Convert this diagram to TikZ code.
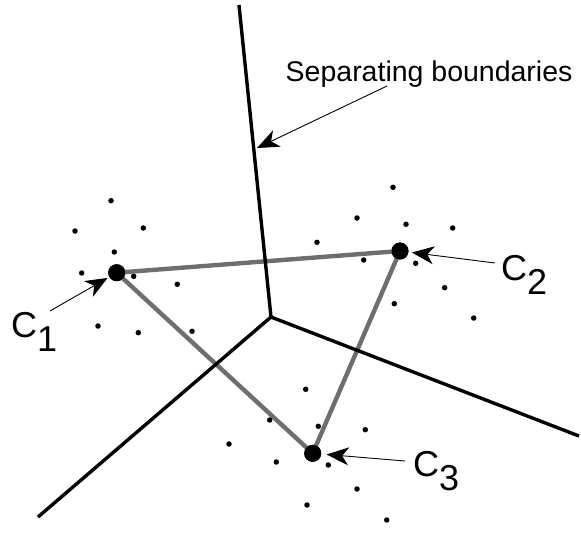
\documentclass[tikz,border=0pt]{standalone}
\usepackage{fontspec}
\setmainfont{Liberation Sans}
\usetikzlibrary{arrows.meta}
\definecolor{linkgray}{RGB}{110,110,110}
\begin{document}
\begin{tikzpicture}[x=1pt,y=-1pt,
  boundary/.style={line width=3.4pt,black},
  link/.style={line width=4.4pt,linkgray},
  centroid/.style={circle,fill=black,minimum size=17pt,inner sep=0pt,outer sep=0pt},
  sample/.style={circle,fill=black,minimum size=5.5pt,inner sep=0pt},
  pointer/.style={line width=0.9pt,-{Stealth[length=22pt,width=18pt,inset=6.5pt]}},
  clabel/.style={font=\fontsize{36}{40}\selectfont,inner sep=0pt,anchor=base west},
  blabel/.style={font=\fontsize{28.5}{32}\selectfont,inner sep=0pt,anchor=base west},
  ]
\useasboundingbox (0,0) rectangle (581,547);

% boundaries
\coordinate (j) at (271,317);
\coordinate (btop) at (239,5);
\coordinate (bleft) at (38,517);
\coordinate (bright) at (579,436);

% centroids
\node[centroid] (c1) at (116.7,272.7) {};
\node[centroid] (c2) at (400,251) {};
\node[centroid] (c3) at (312.7,453.3) {};

% links
\draw[link] (c1.center) -- (c2.center);
\draw[link] (c1.center) -- (c3.center);
\draw[link] (c2.center) -- (c3.center);

\draw[boundary] (btop) -- (j);
\draw[boundary] (j) -- (bleft);
\draw[boundary] (j) -- (bright);

% redraw centroids on top
\node[centroid] at (c1) {};
\node[centroid] at (c2) {};
\node[centroid] at (c3) {};

% samples
\foreach \px/\py [count=\i] in {
  111/200.7, 75/231, 143.3/228, 114.3/252, 81.7/273, 133.7/276.3, 177.3/284.3,
  98/326, 138.3/332.7, 192/331.3,
  393/187.3, 357/218, 406/224.3, 452.7/228, 317/242.3, 363.7/260, 415.7/263.3,
  444.7/287.7, 394.3/303.7, 473.7/318,
  305.7/389.3, 269.7/420, 318.3/426.3, 365.3/429.7, 229/444, 276.3/462,
  328.3/465, 357/489, 307/505, 386.7/520}
  \node[sample] (s\i) at (\px,\py) {};

% labels
\node[blabel] (sep) at (285.5,81) {Separating boundaries};
\node[clabel] (l1) at (11,337.3) {C\raisebox{-14pt}{1}};
\node[clabel] (l2) at (501,280) {C\raisebox{-14pt}{2}};
\node[clabel] (l3) at (413,476.7) {C\raisebox{-14pt}{3}};

% pointers
\coordinate (septail) at (387,86);
\coordinate (sephead) at (257,148);
\coordinate (t1) at (50,311);
\coordinate (t2) at (495,263);
\coordinate (t3) at (405,461);
\draw[pointer] (septail) -- (sephead);
\draw[pointer,shorten >=2pt] (t1) -- (c1);
\draw[pointer,shorten >=3.5pt] (t2) -- (c2);
\draw[pointer,shorten >=5.5pt] (t3) -- (c3);
\end{tikzpicture}
\end{document}
